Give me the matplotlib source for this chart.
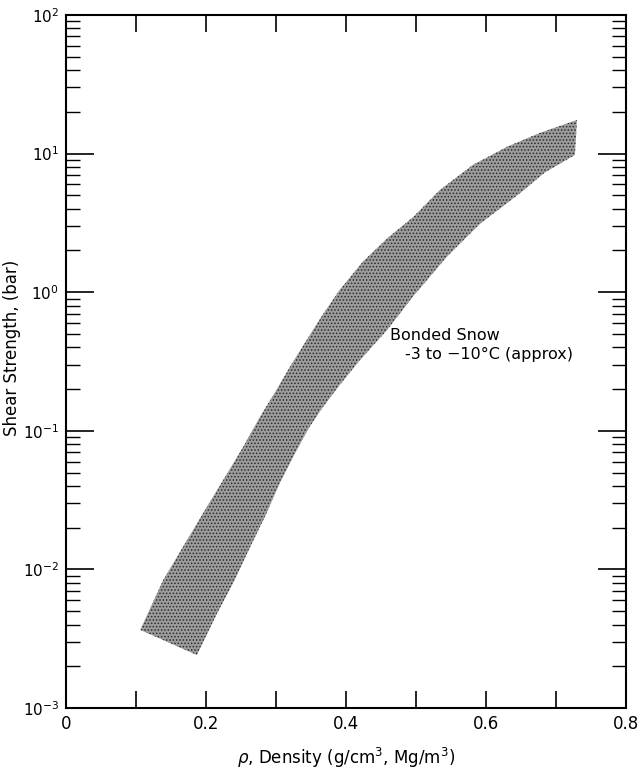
import numpy as np
import matplotlib
matplotlib.use('Agg')
import matplotlib.pyplot as plt
from matplotlib.patches import Polygon
from matplotlib.ticker import LogLocator, NullFormatter, MultipleLocator, FuncFormatter

''' --------- Band edges: density [g/cm3] vs shear strength [bar] --------- '''
rho_upper = [0.106, 0.139, 0.167, 0.196, 0.225, 0.253, 0.277, 0.299, 0.320,
             0.343, 0.366, 0.391, 0.424, 0.459, 0.496, 0.534, 0.581, 0.630,
             0.677, 0.730]
tau_upper = [0.00366, 0.0084, 0.0145, 0.0255, 0.0445, 0.0764, 0.126, 0.191,
             0.290, 0.445, 0.680, 1.04, 1.66, 2.45, 3.49, 5.46, 8.28, 11.2,
             14.1, 17.5]

rho_lower = [0.187, 0.216, 0.240, 0.263, 0.285, 0.306, 0.326, 0.346, 0.366,
             0.391, 0.420, 0.459, 0.496, 0.544, 0.591, 0.649, 0.684, 0.727]
tau_lower = [0.00241, 0.00484, 0.0082, 0.0145, 0.0245, 0.0425, 0.0669, 0.103,
             0.146, 0.214, 0.324, 0.535, 0.935, 1.80, 3.10, 5.20, 7.30, 9.77]

plt.rcParams['hatch.linewidth'] = 0.7

fig = plt.figure(figsize=(6.38, 7.69), dpi=100)
ax = fig.add_axes([66/638, 1 - 708/769, 560/638, 693/769])

# closed outline: upper edge left->right, lower edge right->left
xs = rho_upper + rho_lower[::-1]
ys = tau_upper + tau_lower[::-1]
ax.set_yscale('log')
band = Polygon(np.column_stack([xs, ys]), closed=True,
               facecolor='#9c9c9c', edgecolor='#2a2a2a', hatch='.....',
               linewidth=0)
ax.add_patch(band)

ax.set(xlim=(0, 0.8), ylim=(1e-3, 1e2))

ax.text(0.463, 0.49, 'Bonded Snow', fontsize=11.5, va='center', ha='left')
ax.text(0.484, 0.358, '-3 to \u221210\u00b0C (approx)', fontsize=11.5,
        va='center', ha='left')

''' --------- Ticks --------- '''
ax.xaxis.set_major_locator(MultipleLocator(0.1))
ax.xaxis.set_major_formatter(FuncFormatter(
    lambda v, p: ('0' if abs(v) < 1e-9 else '%.1f' % v)
    if int(round(v * 10)) % 2 == 0 else ''))
ax.yaxis.set_major_locator(LogLocator(base=10, numticks=10))
ax.yaxis.set_minor_locator(LogLocator(base=10, subs=np.arange(2, 10), numticks=20))
ax.yaxis.set_minor_formatter(NullFormatter())

ax.tick_params(axis='x', which='major', direction='in', top=True, bottom=True,
               length=12, width=1.2, labelsize=12, pad=5)
ax.tick_params(axis='y', which='major', direction='in', left=True, right=True,
               length=20, width=1.2, labelsize=11, pad=5)
ax.tick_params(axis='y', which='minor', direction='in', left=True, right=True,
               length=10, width=1.0)

for s in ax.spines.values():
    s.set_linewidth(1.5)

ax.set_xlabel(r'$\rho$, Density (g/cm$^3$, Mg/m$^3$)', fontsize=12, labelpad=9)
ax.set_ylabel('Shear Strength, (bar)', fontsize=12)
ax.yaxis.set_label_coords(-0.08, 0.52)

fig.savefig('out.png', dpi=100)
